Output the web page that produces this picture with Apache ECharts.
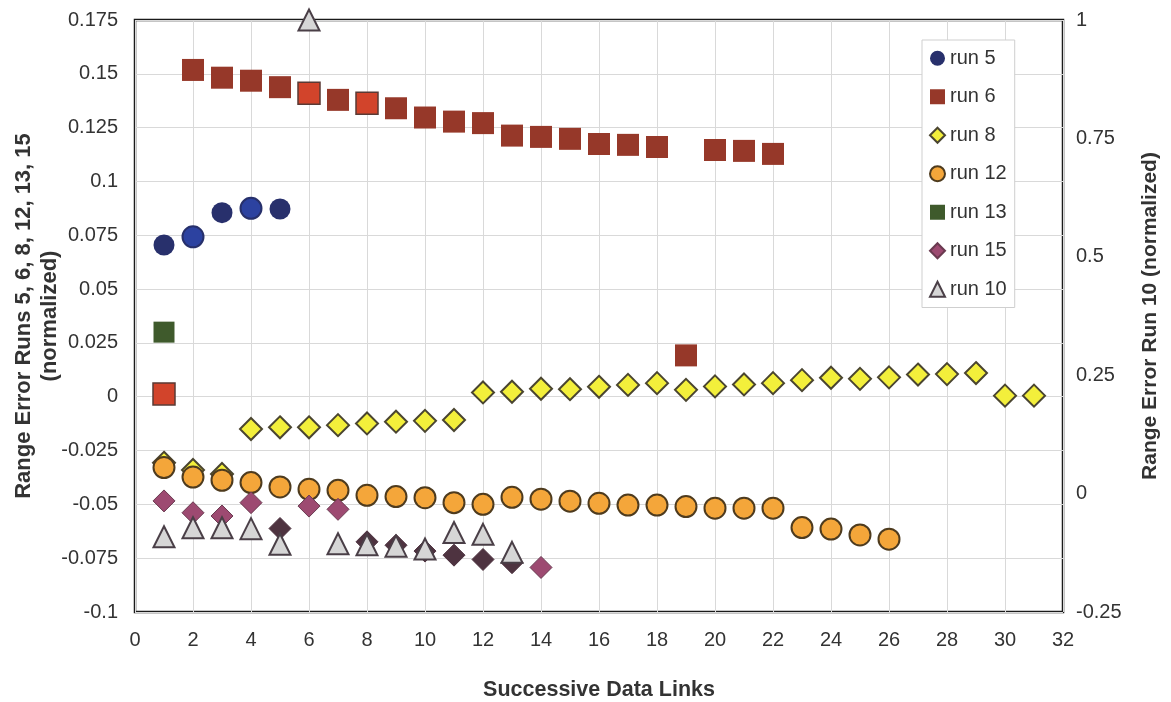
<!DOCTYPE html>
<html><head><meta charset="utf-8">
<script src="https://cdn.jsdelivr.net/npm/echarts@6/dist/echarts.min.js"></script>
<style>html,body{margin:0;padding:0;background:#fff}#c{width:1171px;height:702px}</style>
</head><body><div id="c"></div>
<script>
// ---- data ----
const run5X = [1, 2, 3, 4, 5];
const run5Y = [0.0705, 0.0743, 0.0855, 0.0875, 0.0872];

const run6X = [1, 2, 3, 4, 5, 6, 7, 8, 9, 10, 11, 12, 13, 14, 15, 16, 17, 18, 19, 20, 21, 22];
const run6Y = [0.0013, 0.1518, 0.1482, 0.1468, 0.1438, 0.141, 0.1379, 0.1363, 0.134, 0.1297, 0.1278, 0.1271,
               0.1213, 0.1207, 0.1198, 0.1174, 0.117, 0.116, 0.0192, 0.1146, 0.1142, 0.1128];

const run8X = [1, 2, 3, 4, 5, 6, 7, 8, 9, 10, 11, 12, 13, 14, 15, 16, 17, 18, 19, 20, 21, 22, 23, 24, 25, 26, 27, 28, 29, 30, 31];
const run8Y = [-0.0307, -0.034, -0.0359, -0.015, -0.0142, -0.0142, -0.0132, -0.0124, -0.0116, -0.0112, -0.0108,
               0.002, 0.0023, 0.0037, 0.0035, 0.0046, 0.0055, 0.0063, 0.0032, 0.0048, 0.0057, 0.0063,
               0.0077, 0.0088, 0.0083, 0.009, 0.0103, 0.0105, 0.011, 0.0005, 0.0005];

const run12X = [1, 2, 3, 4, 5, 6, 7, 8, 9, 10, 11, 12, 13, 14, 15, 16, 17, 18, 19, 20, 21, 22, 23, 24, 25, 26];
const run12Y = [-0.0329, -0.0373, -0.0388, -0.0399, -0.0419, -0.043, -0.0435, -0.0458, -0.0464, -0.0469, -0.0492, -0.05,
                -0.0467, -0.0476, -0.0485, -0.0495, -0.0503, -0.0503, -0.051, -0.0518, -0.0518, -0.0518,
                -0.0608, -0.0615, -0.0642, -0.0662];

const run13X = [1];
const run13Y = [0.030];

const run15X = [1, 2, 3, 4, 5, 6, 7, 8, 9, 10, 11, 12, 13, 14];
const run15Y = [-0.0484, -0.0539, -0.0554, -0.0492, -0.0612, -0.0508, -0.0523, -0.0674, -0.069, -0.0717,
                -0.0736, -0.0756, -0.0771, -0.0793];

// run 10 is plotted on the right axis
const run10X = [1, 2, 3, 4, 5, 6, 7, 8, 9, 10, 11, 12, 13];
const run10Y = [-0.091, -0.072, -0.072, -0.074, -0.107, 1.0, -0.106, -0.108, -0.111, -0.117, -0.082, -0.086, -0.124];

const xTicks = { min: 0, max: 32, interval: 2 };
const yLeftTicks = { min: -0.1, max: 0.175, interval: 0.025 };
const yRightTicks = { min: -0.25, max: 1, interval: 0.25 };

const seriesNames = ['run 5', 'run 6', 'run 8', 'run 12', 'run 13', 'run 15', 'run 10'];
const xName = 'Successive Data Links';
const yLeftName = 'Range Error Runs 5, 6, 8, 12, 13, 15\n(normalized)';
const yRightName = 'Range Error Run 10 (normalized)';

// ---- chart ----
const pts = (xs, ys) => xs.map((x, i) => [x, ys[i]]);
const font = 'Liberation Sans, Arial, Helvetica, sans-serif';
const txt = '#333';

// points drawn in a different shade in the original
const run5Light = [2, 4];
const run6Bright = [1, 6, 8];
const run15Dark = [5, 8, 9, 10, 11, 12, 13];

const run5Data = pts(run5X, run5Y).map(p => run5Light.includes(p[0])
  ? { value: p, itemStyle: { color: '#2c42a0', borderColor: '#27306b', borderWidth: 2 } } : p);
const run6Data = pts(run6X, run6Y).map(p => run6Bright.includes(p[0])
  ? { value: p, itemStyle: { color: '#d2442b', borderColor: '#5a3a35', borderWidth: 1.5 } } : p);
const run15Data = pts(run15X, run15Y).map(p => run15Dark.includes(p[0])
  ? { value: p, itemStyle: { color: '#4e3340', borderColor: '#4e3340' } } : p);

const chart = echarts.init(document.getElementById('c'), null, { renderer: 'canvas' });
chart.setOption({
  animation: false,
  backgroundColor: '#fff',
  textStyle: { fontFamily: font },
  grid: {
    left: 135, right: 108, top: 20, bottom: 90,
    show: true, borderColor: '#1a1a1a', borderWidth: 2.5,
    containLabel: false, outerBoundsMode: 'none'
  },
  legend: {
    orient: 'vertical',
    left: 922, top: 40,
    backgroundColor: '#fff',
    borderColor: '#cfcfcf', borderWidth: 1,
    padding: [7, 8, 7, 7],
    itemWidth: 15, itemHeight: 15, itemGap: 16,
    textStyle: { fontSize: 20, color: txt, fontFamily: font, lineHeight: 22.5 },
    data: seriesNames
  },
  xAxis: {
    type: 'value', min: xTicks.min, max: xTicks.max, interval: xTicks.interval,
    name: xName, nameLocation: 'middle', nameGap: 67,
    nameTextStyle: { fontSize: 21.5, fontWeight: 'bold', color: txt, fontFamily: font },
    axisLine: { show: false }, axisTick: { show: false },
    axisLabel: { fontSize: 20, color: txt, margin: 18, fontFamily: font },
    splitLine: { show: true, lineStyle: { color: '#d9d9d9', width: 1 } }
  },
  yAxis: [
    {
      type: 'value', position: 'left', min: yLeftTicks.min, max: yLeftTicks.max, interval: yLeftTicks.interval,
      name: yLeftName, nameLocation: 'middle', nameGap: 72, nameRotate: 90, nameMoveOverlap: false,
      nameTextStyle: { fontSize: 22, fontWeight: 'bold', color: txt, lineHeight: 26, fontFamily: font },
      axisLine: { show: false }, axisTick: { show: false },
      axisLabel: { fontSize: 20, color: txt, margin: 17, fontFamily: font,
        formatter: v => (Math.round(v * 1000) / 1000).toString() },
      splitLine: { show: true, lineStyle: { color: '#d9d9d9', width: 1 } }
    },
    {
      type: 'value', position: 'right', min: yRightTicks.min, max: yRightTicks.max, interval: yRightTicks.interval,
      name: yRightName, nameLocation: 'middle', nameGap: 77, nameRotate: 90,
      nameTextStyle: { fontSize: 21, fontWeight: 'bold', color: txt, fontFamily: font },
      axisLine: { show: false }, axisTick: { show: false },
      axisLabel: { fontSize: 20, color: txt, margin: 13, fontFamily: font,
        formatter: v => (Math.round(v * 100) / 100).toString() },
      splitLine: { show: false }
    }
  ],
  series: [
    { name: 'run 5', type: 'scatter', symbol: 'circle', symbolSize: 21, data: run5Data,
      itemStyle: { color: '#28306c', opacity: 1 } },
    { name: 'run 6', type: 'scatter', symbol: 'rect', symbolSize: 22, data: run6Data,
      itemStyle: { color: '#963829', opacity: 1 } },
    { name: 'run 8', type: 'scatter', symbol: 'diamond', symbolSize: 22, data: pts(run8X, run8Y),
      itemStyle: { color: '#f3ef3b', borderColor: '#4a4530', borderWidth: 2, opacity: 1 } },
    { name: 'run 12', type: 'scatter', symbol: 'circle', symbolSize: 21, data: pts(run12X, run12Y),
      itemStyle: { color: '#f4a63a', borderColor: '#4e3b1e', borderWidth: 2, opacity: 1 } },
    { name: 'run 13', type: 'scatter', symbol: 'rect', symbolSize: 21, data: pts(run13X, run13Y),
      itemStyle: { color: '#3f5a2c', opacity: 1 } },
    { name: 'run 15', type: 'scatter', symbol: 'diamond', symbolSize: 22, data: run15Data,
      itemStyle: { color: '#9d4a71', borderColor: '#6a3a50', borderWidth: 1, opacity: 1 } },
    { name: 'run 10', type: 'scatter', symbol: 'triangle', symbolSize: 21, yAxisIndex: 1, clip: false,
      data: pts(run10X, run10Y),
      itemStyle: { color: '#d6d6d6', borderColor: '#4a3f47', borderWidth: 2, opacity: 1 } }
  ]
});
</script>
</body></html>
